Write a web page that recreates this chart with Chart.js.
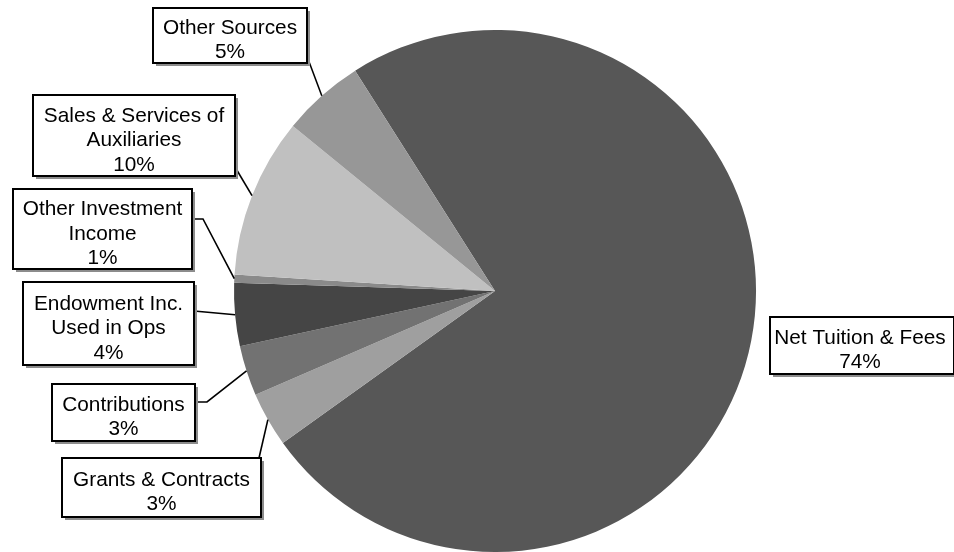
<!DOCTYPE html>
<html>
<head>
<meta charset="utf-8">
<script src="https://cdn.jsdelivr.net/npm/chart.js@4"></script>
<style>
  html, body { margin: 0; padding: 0; background: #fff; }
  #wrap { width: 954px; height: 552px; position: relative; }
</style>
</head>
<body>
<div id="wrap"><canvas id="c" width="954" height="552"></canvas></div>
<script>
// ---- data ----
const categories = [
  "Net Tuition & Fees",
  "Grants & Contracts",
  "Contributions",
  "Endowment Inc. Used in Ops",
  "Other Investment Income",
  "Sales & Services of Auxiliaries",
  "Other Sources"
];
const values = [74.1, 3.4, 3.1, 3.9, 0.5, 9.9, 5.1];
const percentLabels = ["74%", "3%", "3%", "4%", "1%", "10%", "5%"];
const labelLines = [
  ["Net Tuition & Fees"],
  ["Grants & Contracts"],
  ["Contributions"],
  ["Endowment Inc.", "Used in Ops"],
  ["Other Investment", "Income"],
  ["Sales & Services of", "Auxiliaries"],
  ["Other Sources"]
];
const sliceColors = ["#575757", "#9f9f9f", "#727272", "#454545", "#8a8a8a", "#c0c0c0", "#979797"];

// ---- label layout (box geometry, leader anchor points) ----
const labelLayout = [
  { box: [770, 317, 184, 57], leader: null },
  { box: [62, 458, 199, 59], leader: [[259, 458]] },
  { box: [52, 384, 143, 57], leader: [[195, 402], [207, 402]] },
  { box: [23, 282, 171, 83], leader: [[194, 311]] },
  { box: [13, 189, 179, 80], leader: [[192, 219], [203, 219]] },
  { box: [33, 95, 202, 81], leader: [[235, 167]] },
  { box: [153, 8, 154, 55], leader: [[308, 59]] }
];

const calloutPlugin = {
  id: 'callouts',
  afterDraw(chart) {
    const ctx = chart.ctx;
    const meta = chart.getDatasetMeta(0);
    ctx.save();
    meta.data.forEach((arc, i) => {
      const lay = labelLayout[i];
      const p = arc.getProps(['x', 'y', 'startAngle', 'endAngle', 'outerRadius'], true);
      const mid = (p.startAngle + p.endAngle) / 2;
      const ex = p.x + Math.cos(mid) * p.outerRadius;
      const ey = p.y + Math.sin(mid) * p.outerRadius;
      if (lay.leader) {
        ctx.beginPath();
        ctx.strokeStyle = '#000';
        ctx.lineWidth = 1.6;
        ctx.moveTo(lay.leader[0][0], lay.leader[0][1]);
        for (let k = 1; k < lay.leader.length; k++) ctx.lineTo(lay.leader[k][0], lay.leader[k][1]);
        ctx.lineTo(ex, ey);
        ctx.stroke();
      }
      const [bx, by, bw, bh] = lay.box;
      // shadow
      ctx.fillStyle = '#8c8c8c';
      ctx.fillRect(bx + 3, by + 3, bw, bh);
      ctx.fillStyle = '#fff';
      ctx.fillRect(bx, by, bw, bh);
      ctx.strokeStyle = '#000';
      ctx.lineWidth = 2;
      ctx.strokeRect(bx, by, bw, bh);
      const lines = labelLines[i].concat([percentLabels[i]]);
      ctx.fillStyle = '#000';
      ctx.font = '20.8px "Liberation Sans", Arial, sans-serif';
      ctx.textAlign = 'center';
      ctx.textBaseline = 'middle';
      const lh = 24.5;
      const cx = bx + bw / 2 + (i === 0 ? -2 : 0);
      const cy = by + bh / 2 + 5;
      lines.forEach((t, k) => {
        ctx.fillText(t, cx, cy + (k - (lines.length - 1) / 2) * lh);
      });
    });
    ctx.restore();
  }
};

new Chart(document.getElementById('c'), {
  type: 'pie',
  data: {
    labels: categories,
    datasets: [{
      data: values,
      backgroundColor: sliceColors,
      borderWidth: 0,
      hoverOffset: 0
    }]
  },
  options: {
    responsive: false,
    animation: false,
    rotation: -32.4,
    layout: { padding: { left: 36, right: 0, top: 30, bottom: 0 } },
    plugins: {
      legend: { display: false },
      tooltip: { enabled: false }
    }
  },
  plugins: [calloutPlugin]
});
</script>
</body>
</html>
